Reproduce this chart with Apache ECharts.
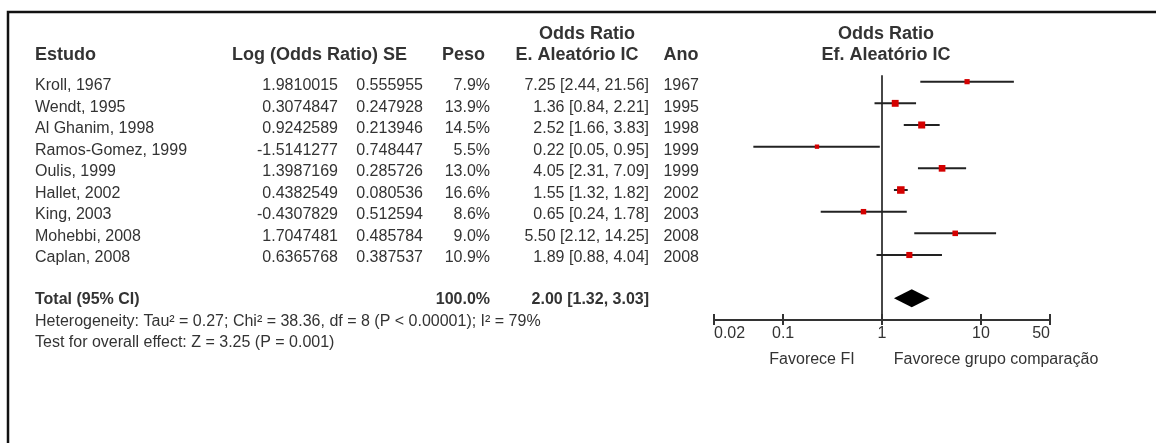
<!DOCTYPE html>
<html>
<head>
<meta charset="utf-8">
<script src="https://cdn.jsdelivr.net/npm/echarts@6/dist/echarts.min.js"></script>
<style>
  html, body { margin: 0; padding: 0; background: #fff; }
  #chart { width: 1156px; height: 443px; }
</style>
</head>
<body>
<div id="chart"></div>
<script>
// Study-level data (random-effects meta-analysis)
const studies = ['Kroll, 1967', 'Wendt, 1995', 'Al Ghanim, 1998', 'Ramos-Gomez, 1999', 'Oulis, 1999',
                 'Hallet, 2002', 'King, 2003', 'Mohebbi, 2008', 'Caplan, 2008'];
const logOR = [1.9810015, 0.3074847, 0.9242589, -1.5141277, 1.3987169, 0.4382549, -0.4307829, 1.7047481, 0.6365768];
const logSE = [0.555955, 0.247928, 0.213946, 0.748447, 0.285726, 0.080536, 0.512594, 0.485784, 0.387537];
const weights = [7.9, 13.9, 14.5, 5.5, 13.0, 16.6, 8.6, 9.0, 10.9];
const oddsRatio = [7.25, 1.36, 2.52, 0.22, 4.05, 1.55, 0.65, 5.50, 1.89];
const ciLower = [2.44, 0.84, 1.66, 0.05, 2.31, 1.32, 0.24, 2.12, 0.88];
const ciUpper = [21.56, 2.21, 3.83, 0.95, 7.09, 1.82, 1.78, 14.25, 4.04];
const years = [1967, 1995, 1998, 1999, 1999, 2002, 2003, 2008, 2008];

// Pooled estimate: [OR, lower, upper] and total weight
const pooled = [2.00, 1.32, 3.03];
const pooledWeight = 100.0;

// Axis ticks of the forest plot
const tickValues = [0.02, 0.1, 1, 10, 50];
const tickLabels = ['0.02', '0.1', '1', '10', '50'];

const heterogeneityText = 'Heterogeneity: Tau\u00b2 = 0.27; Chi\u00b2 = 38.36, df = 8 (P < 0.00001); I\u00b2 = 79%';
const overallEffectText = 'Test for overall effect: Z = 3.25 (P = 0.001)';

const FONT = "'Liberation Sans', Arial, Helvetica, sans-serif";
const TXT = '#333';

const chart = echarts.init(document.getElementById('chart'), null, { renderer: 'canvas' });

// Forest plot rows: study i sits at y = i, pooled row at y = 10
const pooledRow = studies.length + 1;
const studyData = studies.map((s, i) => [oddsRatio[i], ciLower[i], ciUpper[i], weights[i], i]);

// Table text elements
function txt(x, y, text, opts) {
  opts = opts || {};
  const align = opts.align || 'left';
  return {
    type: 'text', x: x, y: y, silent: true,
    style: {
      text: text,
      fontFamily: FONT,
      fontSize: opts.size || 16,
      fontWeight: opts.bold ? 'bold' : 'normal',
      fill: opts.color || TXT,
      align: align, textAlign: align,
      verticalAlign: 'middle', textVerticalAlign: 'middle'
    }
  };
}

const graphics = [];
// frame
graphics.push({
  type: 'polyline', silent: true,
  shape: { points: [[1160, 12], [8, 12], [8, 447]] },
  style: { stroke: '#111', lineWidth: 2.5, fill: null }
});
// headers
const H = { size: 18, bold: true };
graphics.push(txt(35, 55, 'Estudo', H));
graphics.push(txt(232, 55, 'Log (Odds Ratio) SE', H));
graphics.push(txt(485, 55, 'Peso', Object.assign({ align: 'right' }, H)));
graphics.push(txt(587, 34, 'Odds Ratio', Object.assign({ align: 'center' }, H)));
graphics.push(txt(577, 55, 'E. Aleatório IC', Object.assign({ align: 'center' }, H)));
graphics.push(txt(681, 55, 'Ano', Object.assign({ align: 'center' }, H)));
graphics.push(txt(886, 34, 'Odds Ratio', Object.assign({ align: 'center' }, H)));
graphics.push(txt(886, 55, 'Ef. Aleatório IC', Object.assign({ align: 'center' }, H)));

// study rows
studies.forEach((s, i) => {
  const y = 86 + 21.5 * i;
  graphics.push(txt(35, y, s));
  graphics.push(txt(338, y, logOR[i].toFixed(7), { align: 'right' }));
  graphics.push(txt(423, y, logSE[i].toFixed(6), { align: 'right' }));
  graphics.push(txt(490, y, weights[i].toFixed(1) + '%', { align: 'right' }));
  graphics.push(txt(649, y, oddsRatio[i].toFixed(2) + ' [' + ciLower[i].toFixed(2) + ', ' + ciUpper[i].toFixed(2) + ']', { align: 'right' }));
  graphics.push(txt(699, y, String(years[i]), { align: 'right' }));
});

// pooled row and footnotes
graphics.push(txt(35, 299.5, 'Total (95% CI)', { bold: true }));
graphics.push(txt(490, 299.5, pooledWeight.toFixed(1) + '%', { bold: true, align: 'right' }));
graphics.push(txt(649, 299.5, pooled[0].toFixed(2) + ' [' + pooled[1].toFixed(2) + ', ' + pooled[2].toFixed(2) + ']', { bold: true, align: 'right' }));
graphics.push(txt(35, 321.5, heterogeneityText));
graphics.push(txt(35, 343, overallEffectText));
graphics.push(txt(812, 360, 'Favorece FI', { align: 'center' }));
graphics.push(txt(996, 360, 'Favorece grupo comparação', { align: 'center' }));

function tickFormatter(v) {
  for (let k = 0; k < tickValues.length; k++) {
    if (Math.abs(Math.log10(v) - Math.log10(tickValues[k])) < 1e-6) return tickLabels[k];
  }
  return '';
}

// Two identical grids: the second one only carries the upward half of the cross ticks
const gridRect = { left: 714, right: 1156 - 1050, top: 60, bottom: 443 - 320, containLabel: false };

const xAxisBase = {
  type: 'log', logBase: 10, min: tickValues[0], max: tickValues[tickValues.length - 1],
  position: 'bottom', splitLine: { show: false }, minorTick: { show: false }
};
const yAxisBase = {
  type: 'value', inverse: true, min: -1, max: pooledRow + 1,
  show: false, splitLine: { show: false }
};

const option = {
  animation: false,
  backgroundColor: '#fff',
  textStyle: { fontFamily: FONT },
  grid: [Object.assign({}, gridRect), Object.assign({}, gridRect)],
  xAxis: [
    Object.assign({}, xAxisBase, {
      gridIndex: 0,
      axisLine: { show: true, onZero: false, lineStyle: { color: '#333', width: 2 } },
      axisTick: { show: true, inside: false, length: 5, lineStyle: { color: '#333', width: 2 }, customValues: tickValues },
      axisLabel: {
        show: true, customValues: tickValues, formatter: tickFormatter,
        fontSize: 16, color: TXT, fontFamily: FONT, margin: 6,
        alignMinLabel: 'left', alignMaxLabel: 'right'
      }
    }),
    Object.assign({}, xAxisBase, {
      gridIndex: 1,
      axisLine: { show: false, onZero: false },
      axisTick: { show: true, inside: true, length: 6, lineStyle: { color: '#333', width: 2 }, customValues: tickValues },
      axisLabel: { show: false }
    })
  ],
  yAxis: [
    Object.assign({ gridIndex: 0 }, yAxisBase),
    Object.assign({ gridIndex: 1 }, yAxisBase)
  ],
  series: [
    {
      // line of no effect
      type: 'line', xAxisIndex: 0, yAxisIndex: 0, symbol: 'none', silent: true,
      data: [[1, -0.3], [1, pooledRow + 1]],
      lineStyle: { color: '#333', width: 1.8 }, z: 1
    },
    {
      // confidence intervals and weighted point estimates
      type: 'custom', xAxisIndex: 0, yAxisIndex: 0, silent: true, z: 2,
      encode: { x: [0, 1, 2], y: 4 },
      data: studyData,
      renderItem: function (params, api) {
        const row = api.value(4);
        const pLo = api.coord([api.value(1), row]);
        const pHi = api.coord([api.value(2), row]);
        const pOr = api.coord([api.value(0), row]);
        const s = 1.85 * Math.sqrt(api.value(3));
        return {
          type: 'group',
          children: [
            { type: 'line', shape: { x1: pLo[0], y1: pLo[1], x2: pHi[0], y2: pHi[1] },
              style: { stroke: '#222', lineWidth: 2 } },
            { type: 'rect', shape: { x: pOr[0] - s / 2, y: pOr[1] - s / 2, width: s, height: s },
              style: { fill: '#d40000' } }
          ]
        };
      }
    },
    {
      // pooled diamond
      type: 'custom', xAxisIndex: 0, yAxisIndex: 0, silent: true, z: 2,
      encode: { x: [0, 1, 2], y: 3 },
      data: [[pooled[0], pooled[1], pooled[2], pooledRow]],
      renderItem: function (params, api) {
        const row = api.value(3);
        const pLo = api.coord([api.value(1), row]);
        const pHi = api.coord([api.value(2), row]);
        const pOr = api.coord([api.value(0), row]);
        const h = 9;
        return {
          type: 'polygon',
          shape: { points: [[pLo[0], pLo[1]], [pOr[0], pOr[1] - h], [pHi[0], pHi[1]], [pOr[0], pOr[1] + h]] },
          style: { fill: '#000' }
        };
      }
    }
  ],
  graphic: graphics
};

chart.setOption(option);
</script>
</body>
</html>
